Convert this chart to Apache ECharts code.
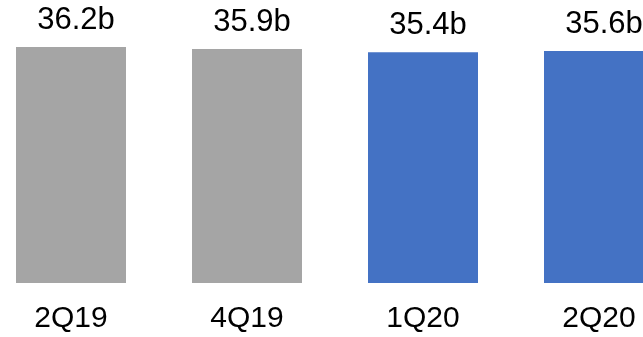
<!DOCTYPE html>
<html>
<head>
<meta charset="utf-8">
<script src="https://cdn.jsdelivr.net/npm/echarts@6/dist/echarts.min.js"></script>
<style>
html,body{margin:0;padding:0;background:#fff;}
#chart{width:643px;height:337px;}
</style>
</head>
<body>
<div id="chart"></div>
<script>
const categories = ['2Q19', '4Q19', '1Q20', '2Q20'];
const values = [36.2, 35.9, 35.4, 35.6];
const unitSuffix = 'b';

const GRAY = '#A5A5A5';
const BLUE = '#4472C4';
const firstHighlighted = 2;

const chart = echarts.init(document.getElementById('chart'));
chart.setOption({
  animation: false,
  backgroundColor: '#ffffff',
  grid: { left: -17, right: -44, top: 47, bottom: 54, containLabel: false, outerBoundsMode: 'none' },
  xAxis: {
    type: 'category',
    data: categories,
    axisLine: { show: false },
    axisTick: { show: false },
    axisLabel: { color: '#000', fontSize: 30, fontFamily: 'Liberation Sans, Arial', margin: 21 }
  },
  yAxis: {
    type: 'value',
    min: 0,
    max: 36.2,
    show: false,
    splitLine: { show: false }
  },
  series: [{
    type: 'bar',
    data: values,
    barWidth: 110,
    itemStyle: {
      color: function (p) { return p.dataIndex >= firstHighlighted ? BLUE : GRAY; }
    },
    label: {
      show: true,
      position: 'top',
      distance: 11,
      offset: [5, 0],
      color: '#000',
      fontSize: 31,
      fontFamily: 'Liberation Sans, Arial',
      formatter: function (p) { return p.value.toFixed(1) + unitSuffix; }
    }
  }]
});
</script>
</body>
</html>
